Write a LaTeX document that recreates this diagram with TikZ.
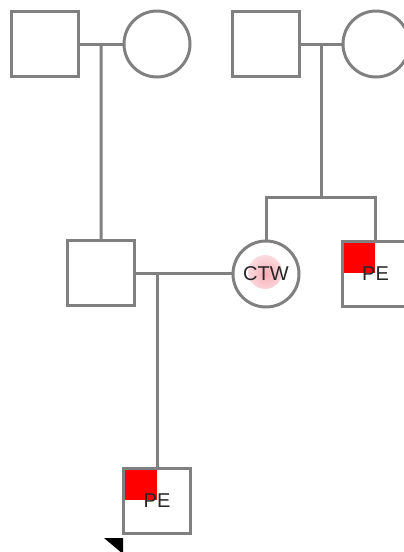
\documentclass[tikz,border=0pt]{standalone}
\usepackage{fontspec}
\setmainfont{Liberation Sans}
\usepackage{xcolor}
\usepackage{tikz}
\usetikzlibrary{calc}

\definecolor{linegray}{HTML}{808080}
\definecolor{textgray}{HTML}{262626}
\definecolor{glowpink}{HTML}{F6AEB6}

\tikzset{
  male/.style={draw=linegray, line width=3pt, minimum width=67pt, minimum height=65pt, inner sep=0pt, font=\fontsize{20}{20}\selectfont, text=textgray},
  female/.style={circle, draw=linegray, line width=3pt, minimum size=66pt, inner sep=0pt, font=\fontsize{20}{20}\selectfont, text=textgray},
  affected/.style={path picture={\fill[red] ($(path picture bounding box.north west)+(1.5,1.5)$) rectangle ($(path picture bounding box.center)+(-0.5,-1)$);}},
  carrier/.style={path picture={\shade[inner color=glowpink, outer color=white] ($(path picture bounding box.center)+(-1,-2)$) circle (17);}},
  link/.style={draw=linegray, line width=3pt},
}

\begin{document}
\begin{tikzpicture}[x=1pt, y=-1pt]
  \path[use as bounding box, clip] (0,0) rectangle (404,552);

  \node[male] (gf1) at (45,44) {};
  \node[female] (gm1) at (157,44) {};
  \node[male] (gf2) at (265.5,44) {};
  \node[female] (gm2) at (376,44) {};
  \node[male] (father) at (101,273) {};
  \node[female, carrier] (mother) at (266,274) {CTW};
  \node[male, affected] (uncle) at (375.5,274) {PE};
  \node[male, affected] (child) at (157,501) {PE};

  \draw[link] (gf1.east) -- (gm1.west);
  \draw[link] ($(gf1.east)!0.5!(gm1.west)$) -- (father.north);
  \draw[link] (gf2.east) -- (gm2.west);
  \coordinate (sib) at ($(gf2.east)!0.5!(gm2.west)+(0,153)$);
  \draw[link] ($(gf2.east)!0.5!(gm2.west)$) -- (sib);
  \draw[link] (mother.north) |- (sib) -| (uncle.north);
  \draw[link] (father.east) -- (father.east -| mother.west);
  \draw[link] (child.north) -- (child.north |- father.east);

  \fill ($(child.south west)+(-18,3)$) -- ($(child.south west)+(1,3)$) -- ($(child.south west)+(1,19)$) -- cycle;
\end{tikzpicture}
\end{document}
